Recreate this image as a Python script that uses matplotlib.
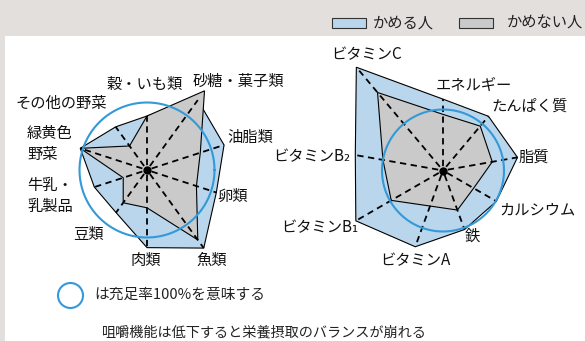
import numpy as np
import matplotlib
matplotlib.use('Agg')
import matplotlib.pyplot as plt
from matplotlib.patches import Rectangle
from matplotlib.lines import Line2D

plt.rcParams['font.family'] = ['Noto Sans CJK JP', 'DejaVu Sans']

# food groups, clockwise from top (% of requirement)
food_labels = ['穀・いも類', '砂糖・菓子類', '油脂類', '卵類', '魚類', '肉類',
               '豆類', '牛乳・\n乳製品', '緑黄色\n野菜', 'その他の野菜']
food_can = [80, 128, 120, 108, 143, 115, 78, 82, 104, 79]
food_cannot = [80, 145, 83, 77, 128, 56, 60, 37, 104, 44]

# nutrients, clockwise from top
nutr_labels = ['エネルギー', 'たんぱく質', '脂質', 'カルシウム', '鉄',
               'ビタミンA', 'ビタミンB₁', 'ビタミンB₂', 'ビタミンC']
nutr_can = [117, 116, 124, 101, 103, 133, 165, 146, 221]
nutr_cannot = [92, 95, 82, 58, 69, 62, 98, 100, 167]

W, H = 585, 341
BLUE = '#b9d6ec'
GRAY = '#cacaca'
RING = '#3399d8'
BAND = '#e2dfdc'

fig = plt.figure(figsize=(W / 100, H / 100), dpi=100, facecolor=BAND)
fig.patches.append(Rectangle((5 / W, 0), (W - 5) / W, (H - 36) / H,
                             transform=fig.transFigure, facecolor='white',
                             edgecolor='none', zorder=-5))


def px(x, y):
    return x / W, 1 - y / H


def radar(cx, cy, half, r100, labels, can, cannot, label_pos):
    rmax = 100 * half / r100
    ax = fig.add_axes([(cx - half) / W, 1 - (cy + half) / H, 2 * half / W, 2 * half / H])
    ax.set_xlim(-rmax, rmax)
    ax.set_ylim(-rmax, rmax)
    ax.set_axis_off()
    n = len(labels)
    ang = np.deg2rad(90 - np.arange(n) * 360 / n)
    can = np.array(can, dtype=float)
    cannot = np.array(cannot, dtype=float)
    ax.fill(can * np.cos(ang), can * np.sin(ang), facecolor=BLUE,
            edgecolor='black', lw=0.8, zorder=1)
    ax.fill(cannot * np.cos(ang), cannot * np.sin(ang), facecolor=GRAY,
            edgecolor='black', lw=0.8, zorder=2)
    for a, v in zip(ang, can):
        ax.plot([0, v * np.cos(a)], [0, v * np.sin(a)], color='black',
                lw=1.3, ls=(3.3, (3.5, 2.5)), zorder=3, clip_on=False)
    t = np.linspace(0, 2 * np.pi, 300)
    ax.plot(100 * np.cos(t), 100 * np.sin(t), color=RING, lw=1.5, zorder=4)
    ax.plot([0], [0], 'o', color='black', ms=5, zorder=5)
    for lab, (x, y, ha) in zip(labels, label_pos):
        fig.text(*px(x, y), lab, ha=ha, va='center', fontsize=11,
                 linespacing=1.25, color='#111111')


food_pos = [(145, 84, 'center'), (238, 81, 'center'), (250, 137, 'center'),
            (233, 196, 'center'), (212, 260, 'center'), (146, 260, 'center'),
            (88, 235, 'center'), (27, 196, 'left'), (27, 144, 'left'),
            (61, 103, 'center')]
nutr_pos = [(474, 85, 'center'), (530, 106, 'center'), (534, 157, 'center'),
            (537, 210, 'center'), (472, 236, 'center'), (415, 261, 'center'),
            (320, 228, 'center'), (312, 157, 'center'), (367, 55, 'center')]

radar(147, 170, 105, 67.5, food_labels, food_can, food_cannot, food_pos)
radar(443, 170.5, 140, 61, nutr_labels, nutr_can, nutr_cannot, nutr_pos)

# legend on the top band
for (x0, col), txt, tx in zip([(332, BLUE), (459, GRAY)], ['かめる人', 'かめない人'], [373, 507]):
    fig.patches.append(Rectangle(px(x0, 28), 34 / W, 10 / H, transform=fig.transFigure,
                                 facecolor=col, edgecolor='#333333', lw=0.8))
    fig.text(*px(tx, 23), txt, ha='left', va='center', fontsize=11, color='#222222')

# 100% ring legend
fig.add_artist(Line2D([70 / W], [1 - 295 / H], marker='o', ms=18, mfc='none',
                      mec=RING, mew=1.5, transform=fig.transFigure))
fig.text(*px(94, 295), 'は充足率100%を意味する', ha='left', va='center', fontsize=10.6,
         color='#222222')
fig.text(*px(264, 332), '咀嚼機能は低下すると栄養摂取のバランスが崩れる', ha='center',
         va='center', fontsize=10.2, color='#222222')

fig.savefig('out.png', dpi=100, facecolor=BAND)
